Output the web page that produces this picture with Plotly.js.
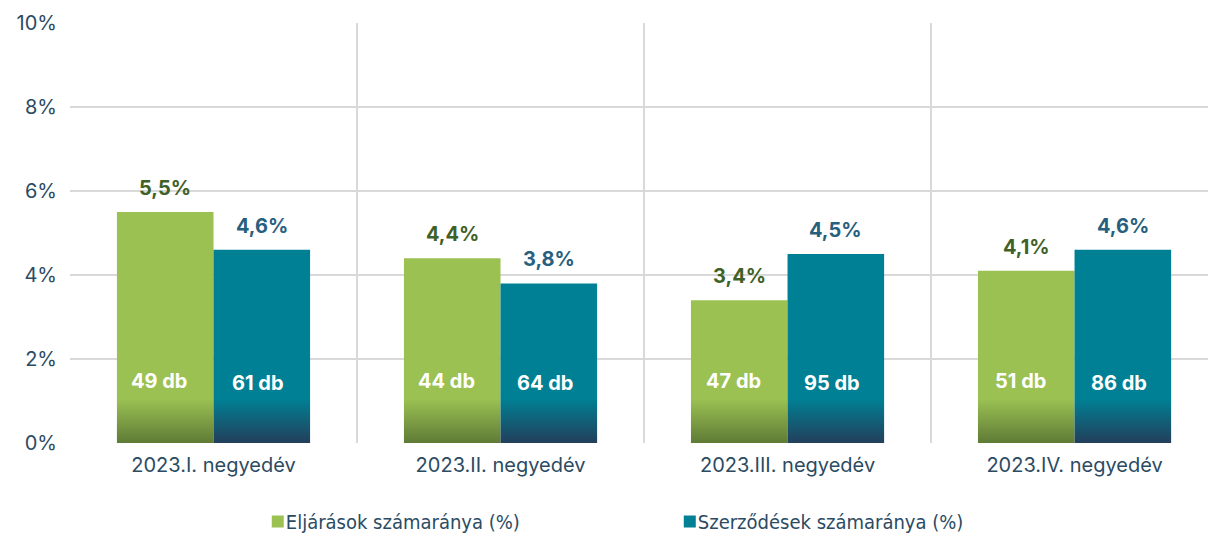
<!DOCTYPE html>
<html>
<head>
<meta charset="utf-8">
<script src="https://cdn.plot.ly/plotly-3.0.1.min.js"></script>
<style>
  html, body { margin: 0; padding: 0; background: #fff; }
  #chart { width: 1208px; height: 533px; }
</style>
</head>
<body>
<div id="chart"></div>
<script>
// ---- data ----
const categories = ["2023.I. negyedév", "2023.II. negyedév", "2023.III. negyedév", "2023.IV. negyedév"];
const seriesNames = ["Eljárások számaránya (%)", "Szerződések számaránya (%)"];
const eljarasPct = [5.5, 4.4, 3.4, 4.1];
const szerzodesPct = [4.6, 3.8, 4.5, 4.6];
const eljarasDb = [49, 44, 47, 51];
const szerzodesDb = [61, 64, 95, 86];

// ---- styles ----
const GREEN = "#9bc153", GREEN_DARK = "#5f7b36", GREEN_TXT = "#3f6127";
const TEAL = "#008094", TEAL_DARK = "#233f5b", TEAL_TXT = "#27607e";
const AXIS_TXT = "#2b4b63";
const FONT = "Inter, 'Open Sans', sans-serif";
const BARGAP = 0.327;
const FADE_TOP = 1.05; // gradient start (axis units)
const LEGEND_NUDGE = 8; // px downward

function fmtPct(v) { return v.toFixed(1).replace('.', ',') + '%'; }

const data = [
  { type: 'bar', name: seriesNames[0], x: categories, y: eljarasPct,
    marker: { color: GREEN }, hoverinfo: 'none' },
  { type: 'bar', name: seriesNames[1], x: categories, y: szerzodesPct,
    marker: { color: TEAL }, hoverinfo: 'none' }
];

const off = (1 - BARGAP) / 4;
const annotations = [];
categories.forEach((c, i) => {
  annotations.push({ x: i - off, y: eljarasPct[i], xref: 'x', yref: 'y', text: fmtPct(eljarasPct[i]),
    showarrow: false, yanchor: 'middle', yshift: 24, font: { family: FONT, size: 20, color: GREEN_TXT, weight: 700 } });
  annotations.push({ x: i + off, y: szerzodesPct[i], xref: 'x', yref: 'y', text: fmtPct(szerzodesPct[i]),
    showarrow: false, yanchor: 'middle', yshift: 24, font: { family: FONT, size: 20, color: TEAL_TXT, weight: 700 } });
  annotations.push({ x: i - off, y: 0, xref: 'x', yref: 'y', text: eljarasDb[i] + ' db',
    showarrow: false, yanchor: 'middle', yshift: 62, xshift: -6, font: { family: FONT, size: 20, color: '#ffffff', weight: 700 } });
  annotations.push({ x: i + off, y: 0, xref: 'x', yref: 'y', text: szerzodesDb[i] + ' db',
    showarrow: false, yanchor: 'middle', yshift: 60, xshift: -4, font: { family: FONT, size: 20, color: '#ffffff', weight: 700 } });
});

const layout = {
  width: 1208, height: 533,
  margin: { l: 70, r: 0, t: 23, b: 90, autoexpand: false },
  paper_bgcolor: '#ffffff', plot_bgcolor: '#ffffff',
  barmode: 'group', bargap: BARGAP, bargroupgap: 0,
  font: { family: FONT, color: AXIS_TXT, size: 20 },
  showlegend: true,
  legend: { orientation: 'h', x: 0.165, xanchor: 'left', y: -0.2143, yanchor: 'bottom',
    entrywidth: 367, entrywidthmode: 'pixels', traceorder: 'normal', tracegroupgap: 0,
    font: { family: "'Liberation Sans Narrow', 'DejaVu Sans Condensed', Roboto, sans-serif", size: 20, color: AXIS_TXT } },
  xaxis: { type: 'category', tickson: 'boundaries', range: [-0.5, 3.465],
    showgrid: true, gridcolor: '#d9d9d9', gridwidth: 1.8, ticks: '', showline: false, zeroline: false,
    ticklabelstandoff: 8,
    tickfont: { family: FONT, size: 20, color: AXIS_TXT } },
  yaxis: { range: [0, 10], dtick: 2, ticksuffix: '%', showgrid: true, gridcolor: '#d9d9d9', gridwidth: 1.8,
    zeroline: false, showline: false, ticks: 'outside', ticklen: 8, tickcolor: 'rgba(0,0,0,0)',
    tickfont: { family: FONT, size: 20, color: AXIS_TXT } },
  annotations: annotations
};

const gd = document.getElementById('chart');
Plotly.newPlot(gd, data, layout, { staticPlot: true, displayModeBar: false }).then(function () {
  const ya = gd._fullLayout.yaxis;
  const svg = gd.querySelector('svg.main-svg');
  let defs = svg.querySelector('defs');
  const ns = 'http://www.w3.org/2000/svg';
  function mkGrad(id, top, bottom) {
    const g = document.createElementNS(ns, 'linearGradient');
    g.setAttribute('id', id);
    g.setAttribute('gradientUnits', 'userSpaceOnUse');
    g.setAttribute('x1', 0); g.setAttribute('x2', 0);
    g.setAttribute('y1', ya.l2p(FADE_TOP)); g.setAttribute('y2', ya.l2p(0));
    [[0, top], [1, bottom]].forEach(s => {
      const st = document.createElementNS(ns, 'stop');
      st.setAttribute('offset', s[0]); st.setAttribute('stop-color', s[1]);
      g.appendChild(st);
    });
    defs.appendChild(g);
  }
  mkGrad('gradGreen', GREEN, GREEN_DARK);
  mkGrad('gradTeal', TEAL, TEAL_DARK);
  const ids = ['gradGreen', 'gradTeal'];
  gd.querySelectorAll('.barlayer .trace').forEach((t, i) => {
    t.querySelectorAll('path').forEach(p => { p.style.fill = 'url(#' + ids[i] + ')'; });
  });
  gd.querySelectorAll('.legend .legendtext').forEach(t => { t.setAttribute('x', 28); });
  const items = gd.querySelector('.legend .scrollbox');
  if (items) {
    const tr = items.getAttribute('transform') || '';
    items.setAttribute('transform', tr + ' translate(0,' + LEGEND_NUDGE + ')');
    gd.querySelectorAll('.legend [clip-path]').forEach(e => e.removeAttribute('clip-path'));
  }
});
</script>
</body>
</html>
